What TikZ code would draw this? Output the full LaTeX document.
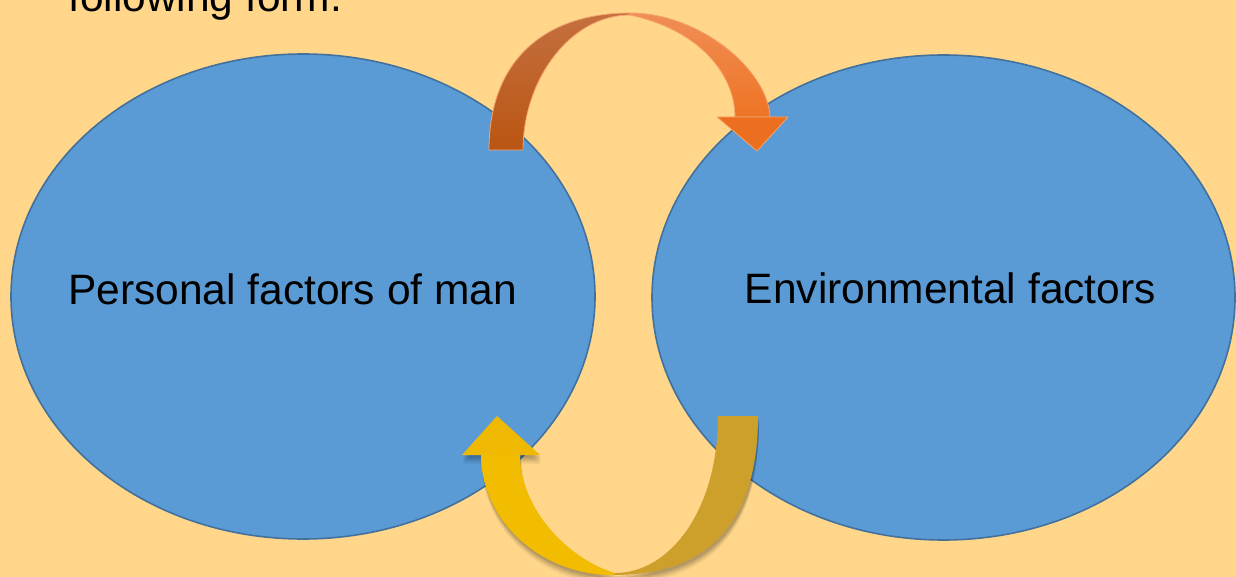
\documentclass[tikz,border=0pt]{standalone}
\usepackage{fontspec}
\setmainfont{Liberation Sans}
\usetikzlibrary{shapes.geometric}
\definecolor{bgc}{HTML}{FFD68A}
\definecolor{ovalfill}{HTML}{5B9BD5}
\definecolor{ovaldraw}{HTML}{41719C}
\definecolor{orDarkTop}{HTML}{C47040}
\definecolor{orDarkBot}{HTML}{BA5512}
\definecolor{orLightTop}{HTML}{F08E55}
\definecolor{orLightBot}{HTML}{EE7424}
\definecolor{orHead}{HTML}{EC6F1F}
\definecolor{orEdge}{HTML}{F5A36C}
\definecolor{goldDark}{HTML}{CDA02C}
\definecolor{goldLight}{HTML}{F2BC00}
\definecolor{goldHead}{HTML}{EEB900}
\tikzset{
  oval/.style={ellipse, draw=ovaldraw, fill=ovalfill, line width=1.6pt, inner sep=0pt},
  txt/.style={font=\fontsize{42.5}{50}\selectfont, text=black, inner sep=0pt},
  orEdgeLine/.style={draw=orEdge, line width=0.8pt, line join=round}
}
\begin{document}
\begin{tikzpicture}[x=1pt,y=-1pt]
\useasboundingbox (0,0) rectangle (1236,577);
\clip (0,0) rectangle (1236,577);
\fill[bgc] (0,0) rectangle (1236,577);

\node[txt, anchor=base west] (intro) at (68,12) {following form.};

\node[oval, minimum width=584pt, minimum height=485pt] (pers) at (303,296.5) {};
\node[oval, minimum width=583pt, minimum height=485pt] (envi) at (943.5,297.5) {};

\node[txt, anchor=base west] (perstxt) at (68,304) {Personal factors of man};
\node[txt, anchor=base east] (envitxt) at (1156,303) {Environmental factors};

% top curved arrow (from pers to envi)
\shade[top color=orDarkTop, bottom color=orDarkBot, orEdgeLine]
  (489,150) .. controls (489,60) and (545,13) .. (630,13)
  -- (630,15) .. controls (570,15) and (523,80) .. (523,150) -- cycle;
\shade[top color=orLightTop, bottom color=orLightBot, orEdgeLine]
  (630,13) .. controls (700,13) and (768,70) .. (770,117)
  -- (735,117) .. controls (735,75) and (700,30) .. (630,15) -- cycle;
\fill[orHead, orEdgeLine] (717,117) -- (788,117) -- (757,151) -- cycle;

% bottom curved arrow shadow
\foreach \dy/\op in {9/0.05,7/0.07,5/0.09,3/0.1}{
  \fill[black, opacity=\op, shift={(1,\dy)}]
    (758,416) .. controls (758,545) and (685,575) .. (613,575)
    .. controls (540,575) and (481,520) .. (481,455)
    -- (462,455) -- (497,416) -- (540,455) -- (520,455)
    .. controls (520,510) and (570,560) .. (615,573)
    .. controls (670,573) and (718,510) .. (718,416) -- cycle;
}
% bottom curved arrow (from envi to pers)
\fill[goldDark]
  (758,416) .. controls (758,545) and (685,575) .. (613,575)
  -- (615,573) .. controls (670,573) and (718,510) .. (718,416) -- cycle;
\fill[goldLight]
  (613,575) .. controls (540,575) and (481,520) .. (481,455)
  -- (520,455) .. controls (520,510) and (570,560) .. (615,573) -- cycle;
\fill[goldHead] (462,455) -- (497,416) -- (540,455) -- cycle;
\end{tikzpicture}
\end{document}
